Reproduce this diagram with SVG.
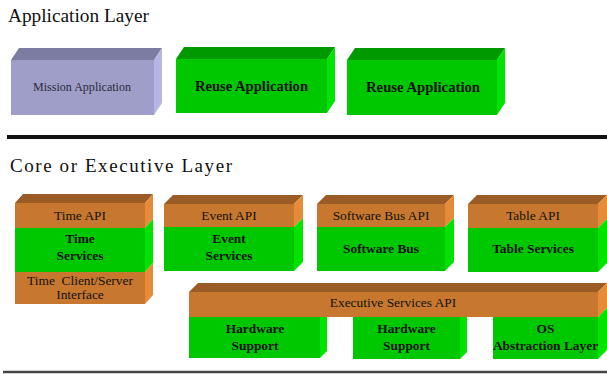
<svg xmlns="http://www.w3.org/2000/svg" width="607" height="374" viewBox="0 0 607 374">
<style>
.title{font-family:"Liberation Serif","Times New Roman",serif;font-size:19px;fill:#111}
.lbl{font-family:"Liberation Serif","Times New Roman",serif;font-size:13.4px;fill:#111;text-anchor:middle}
.b{font-weight:bold}
.gF{fill:#00C800}.gT{fill:#009A00}.gS{fill:#00E400}
.oF{fill:#C8782E}.oT{fill:#9A5B24}.oS{fill:#E68B37}
.pF{fill:#9E9EC8}.pT{fill:#7C7CA2}.pS{fill:#B6B6E6}
</style>
<rect width="607" height="374" fill="#fff"/>
<text class="title" x="8" y="22" textLength="141" lengthAdjust="spacingAndGlyphs">Application Layer</text>
<text class="title" x="10" y="172" textLength="222" lengthAdjust="spacing">Core or Executive Layer</text>

<g id="sep">
<line x1="7" y1="137" x2="607" y2="137" stroke="#111" stroke-width="4"/>
<line x1="3" y1="372" x2="607" y2="372" stroke="#444" stroke-width="2.5"/>
</g>

<g id="mission">
<path class="pT" d="M11 60 L19 48 L162 48 L154 60 Z"/>
<path class="pS" d="M154 60 L162 48 L162 103 L154 115 Z"/>
<rect class="pF" x="11" y="60" width="143" height="55"/>
<text class="lbl" x="82" y="91" style="font-size:12px;fill:#2a2a3a" textLength="98" lengthAdjust="spacingAndGlyphs">Mission Application</text>
</g>
<g id="reuse1">
<path class="gT" d="M176 59 L184 47 L335 47 L327 59 Z"/>
<path class="gS" d="M327 59 L335 47 L335 101 L327 113 Z"/>
<rect class="gF" x="176" y="59" width="151" height="54"/>
<text class="lbl b" x="251.5" y="91" style="font-size:14.5px" textLength="113" lengthAdjust="spacingAndGlyphs">Reuse Application</text>
</g>
<g id="reuse2">
<path class="gT" d="M347 60 L355 48 L505 48 L497 60 Z"/>
<path class="gS" d="M497 60 L505 48 L505 103 L497 115 Z"/>
<rect class="gF" x="347" y="60" width="150" height="55"/>
<text class="lbl b" x="423" y="92" style="font-size:14.5px" textLength="114" lengthAdjust="spacingAndGlyphs">Reuse Application</text>
</g>

<g id="time">
<path class="oT" d="M15 203 L23 194 L153 194 L145 203 Z"/>
<path class="oS" d="M145 203 L153 194 L153 219 L145 228 Z"/>
<path class="gS" d="M145 228 L153 219 L153 263 L145 272 Z"/>
<path class="oS" d="M145 272 L153 263 L153 295 L145 304 Z"/>
<rect class="oF" x="15" y="203" width="130" height="25"/>
<rect class="gF" x="15" y="228" width="130" height="44"/>
<rect class="oF" x="15" y="272" width="130" height="32"/>
<text class="lbl" x="80" y="220">Time API</text>
<text class="lbl b" x="80" y="243">Time</text>
<text class="lbl b" x="80" y="260">Services</text>
<text class="lbl" x="80" y="285" xml:space="preserve">Time  Client/Server</text>
<text class="lbl" x="80" y="299">Interface</text>
</g>

<g id="event">
<path class="oT" d="M164 204 L173 195 L303 195 L294 204 Z"/>
<path class="oS" d="M294 204 L303 195 L303 218 L294 227 Z"/>
<path class="gS" d="M294 227 L303 218 L303 262 L294 271 Z"/>
<rect class="oF" x="164" y="204" width="130" height="23"/>
<rect class="gF" x="164" y="227" width="130" height="44"/>
<text class="lbl" x="229" y="220">Event API</text>
<text class="lbl b" x="229" y="243">Event</text>
<text class="lbl b" x="229" y="260">Services</text>
</g>

<g id="swbus">
<path class="oT" d="M317 204 L326 195 L454 195 L445 204 Z"/>
<path class="oS" d="M445 204 L454 195 L454 218 L445 227 Z"/>
<path class="gS" d="M445 227 L454 218 L454 262 L445 271 Z"/>
<rect class="oF" x="317" y="204" width="128" height="23"/>
<rect class="gF" x="317" y="227" width="128" height="44"/>
<text class="lbl" x="381" y="220">Software Bus API</text>
<text class="lbl b" x="381" y="253">Software Bus</text>
</g>

<g id="table">
<path class="oT" d="M468 204 L477 195 L607 195 L598 204 Z"/>
<path class="oS" d="M598 204 L607 195 L607 219 L598 228 Z"/>
<path class="gS" d="M598 228 L607 219 L607 263 L598 272 Z"/>
<rect class="oF" x="468" y="204" width="130" height="24"/>
<rect class="gF" x="468" y="228" width="130" height="44"/>
<text class="lbl" x="533" y="220">Table API</text>
<text class="lbl b" x="533" y="253">Table Services</text>
</g>

<g id="execapi">
<path class="oT" d="M189 292 L198 283 L607 283 L598 292 Z"/>
<path class="oS" d="M598 292 L607 283 L607 308 L598 317 Z"/>
<rect class="oF" x="189" y="292" width="409" height="25"/>
<text class="lbl" x="393" y="307">Executive Services API</text>
</g>

<g id="hw1">
<path class="gS" d="M320 317 L327 317 L327 351 L320 358 Z"/>
<rect class="gF" x="189" y="317" width="131" height="41"/>
<text class="lbl b" x="255" y="333">Hardware</text>
<text class="lbl b" x="255" y="350">Support</text>
</g>

<g id="hw2">
<path class="gS" d="M460 317 L467 317 L467 352 L460 359 Z"/>
<rect class="gF" x="353" y="317" width="107" height="42"/>
<text class="lbl b" x="406.5" y="333">Hardware</text>
<text class="lbl b" x="406.5" y="350">Support</text>
</g>

<g id="os">
<path class="gS" d="M598 317 L607 308 L607 350 L598 359 Z"/>
<rect class="gF" x="493" y="317" width="105" height="42"/>
<text class="lbl b" x="545.5" y="333">OS</text>
<text class="lbl b" x="545.5" y="350">Abstraction Layer</text>
</g>

<g id="connectors"></g>
</svg>
